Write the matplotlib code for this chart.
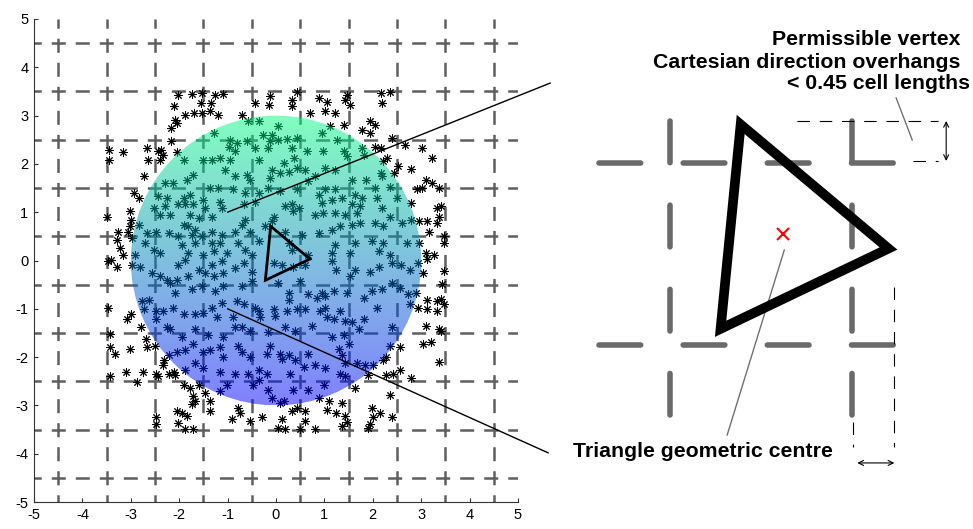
import matplotlib
matplotlib.use("Agg")
import matplotlib.pyplot as plt
import numpy as np
from matplotlib.patches import Circle, Polygon, ConnectionPatch

plt.rcParams["font.family"] = ["Liberation Sans", "DejaVu Sans"]
plt.rcParams["axes.unicode_minus"] = False
plt.rcParams["lines.scale_dashes"] = False

STARS = [
    (-2.02, 3.43), (-1.74, 3.45), (-1.53, 3.46), (-1.55, 3.27), (-2.10, 3.19), (-1.88, 3.02),
    (-1.69, 3.05), (-1.52, 3.05), (-2.09, 2.91), (-2.05, 2.84), (-2.16, 2.74), (-2.16, 2.47),
    (-3.45, 2.28), (-3.45, 2.09), (-3.16, 2.24), (-2.67, 2.33), (-2.43, 2.26), (-2.37, 2.28),
    (-2.33, 2.19), (-2.64, 2.09), (-2.40, 2.09), (-2.05, 2.24), (-1.91, 2.09), (-1.50, 2.09),
    (-2.72, 1.74), (-1.71, 1.78), (-1.84, 1.67), (-2.29, 1.60), (-2.12, 1.60), (-2.43, 1.33),
    (-2.93, 1.40), (-2.84, 1.29), (-2.26, 1.29), (-1.91, 1.29), (-1.78, 1.36), (-1.50, 1.26),
    (-2.02, 1.16), (-1.88, 1.16), (-1.71, 1.16), (-2.53, 1.09), (-2.29, 1.12), (-1.47, 1.09),
    (-2.40, 0.95), (-2.19, 0.95), (-1.78, 0.95), (-1.60, 0.88), (-3.50, 0.91), (-3.02, 1.02),
    (-3.00, 0.84), (-2.84, 0.74), (-3.02, 0.71), (-1.91, 0.74), (-1.81, 0.71), (-1.67, 0.64),
    (-3.26, 0.60), (-3.05, 0.60), (-2.67, 0.57), (-2.47, 0.60), (-2.22, 0.57), (-2.02, 0.50),
    (-1.74, 0.53), (-1.53, 0.50), (-3.29, 0.43), (-2.98, 0.47), (-2.71, 0.36), (-1.95, 0.33),
    (-1.67, 0.36), (-3.22, 0.26), (-2.91, 0.12), (-2.53, 0.22), (-2.40, 0.16), (-1.81, 0.16),
    (-1.50, 0.12), (-3.16, 0.12),
    (-1.26, 3.43), (-1.09, 3.45), (-1.34, 3.26), (-1.36, 3.09), (-1.19, 3.02), (-0.71, 3.02),
    (-0.43, 3.26), (-0.12, 3.40), (-0.14, 3.22), (0.33, 3.19), (0.33, 3.33), (0.43, 3.48),
    (0.71, 3.05), (0.88, 3.36), (-0.57, 2.88), (-0.36, 2.88), (0.05, 2.78), (-0.26, 2.60),
    (-0.09, 2.60), (-1.29, 2.64), (-0.95, 2.50), (-0.81, 2.43), (-0.60, 2.47), (-0.12, 2.47),
    (0.05, 2.50), (0.22, 2.51), (0.43, 2.53), (-0.98, 2.36), (-0.84, 2.26), (-0.43, 2.33),
    (-0.16, 2.33), (0.33, 2.33), (0.64, 2.26), (-1.33, 2.09), (-1.16, 2.12), (-0.95, 2.09),
    (-0.36, 2.09), (0.16, 2.02), (0.37, 2.12), (-1.05, 1.88), (-0.84, 1.74), (-0.60, 1.78),
    (-0.09, 1.88), (0.09, 1.81), (0.26, 1.84), (0.43, 1.91), (0.60, 1.88), (-0.12, 1.71),
    (-0.53, 1.67), (0.81, 1.74), (0.67, 1.64), (-1.36, 1.50), (-1.19, 1.50), (-0.88, 1.47),
    (-0.64, 1.40), (-0.36, 1.40), (-0.16, 1.50), (0.09, 1.43), (0.43, 1.47), (0.88, 1.36),
    (-1.16, 1.22), (-1.12, 1.09), (-0.67, 1.16), (-0.43, 1.22), (0.19, 1.12), (0.33, 1.16),
    (0.47, 1.09), (0.81, 0.95), (0.36, 1.02), (-1.33, 0.91), (-0.64, 0.84), (-0.71, 0.74),
    (-0.05, 0.91), (-0.09, 0.81), (-1.33, 0.60), (-1.12, 0.53), (-0.84, 0.60), (-0.53, 0.60),
    (-0.22, 0.71), (0.19, 0.60), (0.53, 0.53), (0.88, 0.57), (-1.33, 0.36), (-1.16, 0.36),
    (-0.78, 0.36), (-0.36, 0.40), (0.26, 0.36), (-1.29, 0.19), (-1.02, 0.16), (-0.64, 0.22),
    (-0.50, 0.12), (0.33, 0.22), (0.67, 0.12),
    (1.47, 3.43), (1.43, 3.33), (1.53, 3.22), (1.05, 3.29), (2.16, 3.47), (2.19, 3.26),
    (2.36, 3.48), (1.02, 3.09), (1.22, 3.05), (1.40, 2.81), (1.95, 2.88), (2.05, 2.81),
    (1.78, 2.71), (1.95, 2.64), (1.12, 2.78), (0.95, 2.64), (1.26, 2.50), (2.40, 2.53),
    (2.05, 2.36), (2.16, 2.33), (2.29, 2.12), (2.67, 2.40), (3.02, 2.33), (3.22, 2.12),
    (0.98, 2.26), (1.40, 2.26), (1.78, 2.33), (1.81, 2.19), (1.47, 2.16), (2.22, 2.05),
    (2.53, 1.95), (2.78, 1.89), (1.02, 1.91), (1.22, 1.88), (2.16, 1.81), (2.43, 1.81),
    (2.19, 1.74), (1.57, 1.67), (1.85, 1.67), (3.09, 1.67), (3.22, 1.60), (2.91, 1.47),
    (3.02, 1.50), (3.36, 1.50), (1.02, 1.47), (1.22, 1.47), (2.05, 1.50), (2.36, 1.53),
    (1.36, 1.29), (1.64, 1.36), (1.78, 1.29), (2.09, 1.29), (2.50, 1.29), (1.15, 1.26),
    (0.95, 1.19), (1.57, 1.16), (1.74, 1.12), (2.19, 1.09), (2.78, 1.19), (3.33, 1.09),
    (0.98, 0.98), (1.22, 0.98), (1.43, 0.95), (1.67, 0.98), (2.36, 0.91), (3.36, 0.91),
    (1.33, 0.71), (1.57, 0.74), (1.74, 0.78), (2.05, 0.78), (2.22, 0.71), (2.60, 0.78),
    (2.78, 0.84), (2.95, 0.81), (3.12, 0.81), (3.33, 0.78), (1.15, 0.64), (3.16, 0.60),
    (1.22, 0.33), (1.64, 0.36), (1.98, 0.40), (2.22, 0.36), (2.71, 0.36), (2.95, 0.36),
    (1.15, 0.16), (1.53, 0.16), (2.12, 0.19), (2.36, 0.12), (3.09, 0.16), (3.26, 0.12),
    (-3.47, -0.02), (-3.29, -0.13), (-3.40, 0.01), (-2.98, -0.09), (-2.81, -0.13), (-2.57, -0.26),
    (-2.40, -0.33), (-2.26, -0.40), (-2.05, -0.40), (-2.19, -0.47), (-1.81, -0.33), (-1.60, -0.19),
    (-1.47, -0.26), (-2.02, -0.09), (-1.88, 0.01), (-1.74, -0.60), (-1.53, -0.53), (-2.09, -0.67),
    (-2.76, -0.84), (-2.62, -0.81), (-2.72, -1.01), (-3.47, -0.98), (-3.00, -1.11), (-3.07, -1.21),
    (-2.47, -1.04), (-2.33, -1.04), (-2.47, -1.21), (-2.12, -0.98), (-1.91, -1.11), (-1.67, -1.11),
    (-1.50, -1.08), (-2.78, -1.38), (-2.26, -1.38), (-2.19, -1.42), (-1.95, -1.59), (-1.67, -1.42),
    (-3.43, -1.52), (-2.69, -1.62), (-3.43, -1.79), (-3.33, -1.93), (-3.02, -1.83), (-2.67, -1.79),
    (-2.50, -1.76), (-2.22, -1.96), (-2.05, -1.89), (-1.88, -1.86), (-1.71, -1.72), (-1.50, -1.89),
    (-2.31, -2.06), (-2.34, -2.17), (-2.11, -2.30), (-1.88, -2.27), (-1.67, -2.13), (-1.50, -2.23),
    (-3.43, -2.40), (-3.09, -2.30), (-2.88, -2.51), (-2.74, -2.30), (-2.47, -2.34), (-2.43, -2.40),
    (-2.22, -2.34), (-2.09, -2.37), (-1.91, -2.57), (-1.78, -2.64), (-1.60, -2.57), (-1.71, -2.81),
    (-1.67, -2.91), (-1.74, -2.98), (-1.47, -2.74), (-2.05, -3.12), (-1.95, -3.15), (-1.84, -3.22),
    (-2.02, -3.36), (-2.47, -3.25), (-2.47, -3.39), (-1.88, -3.49), (-1.71, -3.49),
    (-1.33, -0.09), (-1.12, -0.02), (-1.09, -0.26), (-1.29, -0.33), (-0.84, -0.16), (-0.67, -0.06),
    (-0.50, -0.23), (-0.50, -0.43), (-0.71, -0.53), (-1.09, -0.53), (-1.26, -0.64), (-0.05, -0.06),
    (0.12, -0.09), (0.36, -0.13), (0.60, -0.09), (0.50, -0.43), (0.05, -0.47), (0.26, -0.67),
    (0.26, -0.81), (0.67, -0.70), (0.84, -0.77), (0.95, -0.67), (-1.12, -0.87), (-0.81, -0.84),
    (-0.67, -0.91), (-0.43, -0.98), (-0.36, -1.04), (-0.05, -1.01), (0.22, -1.04), (0.43, -1.01),
    (0.60, -1.01), (0.91, -1.04), (-1.33, -0.98), (-1.22, -1.18), (-0.88, -1.18), (-0.33, -1.18),
    (-0.02, -1.15), (-0.84, -1.38), (-0.71, -1.38), (0.19, -1.38), (0.40, -1.45), (0.74, -1.35),
    (-1.40, -1.55), (-1.09, -1.59), (-0.53, -1.45), (-0.16, -1.49), (-1.36, -1.86), (-1.16, -1.79),
    (-1.09, -1.99), (-0.78, -1.76), (-0.71, -1.89), (-0.53, -1.99), (-0.12, -1.76), (-0.19, -1.93),
    (0.09, -1.93), (0.12, -2.03), (0.26, -1.96), (0.40, -2.06), (0.67, -1.93), (0.81, -2.17),
    (-1.16, -2.30), (-0.84, -2.34), (-0.57, -2.34), (-0.36, -2.27), (-0.19, -2.34), (0.29, -2.34),
    (0.57, -2.20), (-1.02, -2.57), (-1.16, -2.71), (-0.47, -2.57), (-0.36, -2.47), (-0.16, -2.68),
    (-0.09, -2.85), (0.09, -2.95), (0.16, -2.91), (0.36, -2.68), (0.67, -2.68), (0.88, -2.85),
    (-1.36, -2.91), (-1.36, -3.12), (-0.78, -3.05), (-0.74, -3.15), (-0.91, -3.29), (-0.53, -3.32),
    (-0.29, -3.25), (0.12, -3.29), (0.05, -3.46), (0.19, -3.49), (0.43, -3.05), (0.33, -3.12),
    (0.60, -3.12), (0.50, -3.49), (0.60, -3.32), (0.81, -3.49),
    (1.16, -0.02), (1.23, -0.19), (1.64, -0.19), (1.53, -0.33), (1.94, -0.23), (2.12, -0.13),
    (2.39, -0.06), (2.59, -0.09), (2.76, -0.19), (2.93, -0.06), (3.03, -0.26), (3.13, 0.04),
    (1.02, -0.74), (1.19, -0.64), (1.47, -0.67), (1.81, -0.77), (1.98, -0.64), (2.08, -0.98),
    (2.18, -0.60), (2.39, -0.47), (2.56, -0.57), (2.73, -0.70), (2.76, -0.91), (2.90, -0.67),
    (3.13, -0.81), (3.33, -0.84), (2.93, -0.98), (3.13, -1.01), (3.33, -1.04), (1.02, -0.98),
    (1.33, -1.04), (1.05, -1.18), (1.19, -1.21), (1.43, -1.25), (1.57, -1.28), (1.81, -1.21),
    (1.71, -1.41), (2.39, -1.38), (3.10, -1.35), (3.37, -1.42), (1.16, -1.58), (1.40, -1.55),
    (1.50, -1.72), (2.35, -1.76), (2.56, -1.79), (3.03, -1.72), (3.20, -1.69), (1.30, -1.83),
    (1.36, -1.96), (2.28, -2.00), (2.22, -2.06), (1.67, -2.13), (1.84, -2.17), (2.01, -2.17),
    (1.43, -2.13), (1.33, -2.34), (1.43, -2.40), (1.02, -2.23), (1.91, -2.37), (2.28, -2.37),
    (2.42, -2.34), (2.56, -2.27), (2.79, -2.44), (0.99, -2.57), (1.64, -2.64), (2.35, -2.78),
    (1.09, -2.91), (1.36, -2.95), (1.05, -3.09), (1.23, -3.15), (1.43, -3.22), (1.98, -3.05),
    (2.15, -3.15), (2.01, -3.25), (1.94, -3.39), (2.39, -3.25), (1.36, -3.42), (1.47, -3.35),
    (1.91, -3.46),
    (3.47, 0.51), (3.47, 0.37), (3.47, -0.21), (3.43, -0.49), (3.47, -0.91), (3.40, -1.46),
    (3.36, -2.11), (3.40, -0.80), (3.40, 1.12),
]
star_x, star_y = np.array(STARS).T

# example triangle and its zoomed copy
TRI_X = [-0.11, 0.70, -0.22]
TRI_Y = [0.71, 0.03, -0.41]
DISC_R = 3.0
GRID_POS = [-4.5, -3.5, -2.5, -1.5, -0.5, 0.5, 1.5, 2.5, 3.5, 4.5]
ZOOM_GRID = [-0.5, 0.5]

GREY = "#5f5f5f"

fig = plt.figure(figsize=(9.73, 5.29), dpi=100)

# ---------------- left: whole domain ----------------
ax = fig.add_axes([34 / 973, 27 / 529, 484 / 973, 483 / 529])
for g in GRID_POS:
    ax.plot([-5, 5], [g, g], color=GREY, lw=1.8, ls=(4.9, (10.1, 7.2)),
            dash_capstyle="butt", zorder=1)
    ax.plot([g, g], [-5, 5], color=GREY, lw=1.8, ls=(4.9, (10.1, 7.2)),
            dash_capstyle="butt", zorder=1)

ax.plot(star_x, star_y, ls="none", marker=(8, 2, 0), ms=6, mew=0.7,
        color="black", zorder=2)

grad = np.linspace(1, 0, 256)[:, None] * np.ones((1, 2))
img = ax.imshow(grad, cmap="winter", extent=(-DISC_R, DISC_R, -DISC_R, DISC_R),
                origin="upper", alpha=0.5, aspect="auto", zorder=3)
img.set_clip_path(Circle((0, 0), DISC_R, transform=ax.transData))

ax.add_patch(Polygon(np.c_[TRI_X, TRI_Y], closed=True, fill=False,
                     ec="black", lw=2, zorder=4))

ax.set_xlim(-5, 5)
ax.set_ylim(-5, 5)
ax.set_xticks(range(-5, 6))
ax.set_yticks(range(-5, 6))
for s in ("top", "right"):
    ax.spines[s].set_visible(False)
for s in ("left", "bottom"):
    ax.spines[s].set_color("#333333")
    ax.spines[s].set_linewidth(0.8)
ax.tick_params(direction="in", length=3, width=0.8, labelsize=10.5, pad=4,
               colors="#333333", labelcolor="black")

# ---------------- right: zoomed cell ----------------
ax2 = fig.add_axes([560 / 973, 0, 413 / 973, 1])
ax2.set_xlim(-1.10, 1.163)
ax2.set_ylim(-1.507, 1.392)
ax2.axis("off")

for g in ZOOM_GRID:
    ax2.plot([-0.885, 0.745], [g, g], color="#6a6a6a", lw=4,
             ls=(0, (30, 30.6)), dash_capstyle="round")
    ax2.plot([g, g], [0.73, -0.885], color="#6a6a6a", lw=4,
             ls=(0, (30, 30.6)), dash_capstyle="round")

ax2.add_patch(Polygon(np.c_[TRI_X, TRI_Y], closed=True, fill=False,
                      ec="black", lw=7, joinstyle="miter", zorder=4))
ax2.plot(np.mean(TRI_X), np.mean(TRI_Y), marker="x", color="red", ms=9, mew=1.5,
         zorder=5)

# overhang markers
thin = dict(color="black", lw=0.8, ls=(0, (9, 7)))
ax2.plot([0.20, 0.973], [0.729, 0.729], **thin)
ax2.plot([0.836, 0.973], [0.51, 0.51], **thin)
ax2.plot([0.732, 0.732], [-0.18, -1.06], **thin)
ax2.plot([0.507, 0.507], [-0.92, -1.06], **thin)
arr = dict(arrowstyle="<->", lw=0.8, color="black", mutation_scale=9,
           shrinkA=0, shrinkB=0)
ax2.annotate("", xy=(1.016, 0.729), xytext=(1.016, 0.51), arrowprops=arr)
ax2.annotate("", xy=(0.529, -1.145), xytext=(0.732, -1.145), arrowprops=arr)

# labels and leaders
tk = dict(fontsize=15.3, fontweight="bold", va="center")
ax2.text(1.093, 1.178, "Permissible vertex", ha="right", **tk)
ax2.text(1.093, 1.052, "Cartesian direction overhangs", ha="right", **tk)
ax2.text(1.148, 0.932, "< 0.45 cell lengths", ha="right", **tk)
ax2.text(-1.027, -1.085, "Triangle geometric centre", ha="left", **tk)
ax2.plot([0.742, 0.830], [0.855, 0.625], color="#707070", lw=1)
ax2.plot([0.129, -0.184], [0.022, -0.992], color="#707070", lw=1)

# connectors from the small triangle to the zoom
for a, b in (((-1, 1), (-1.153, 0.937)), ((-1, -1), (-1.164, -1.09))):
    fig.add_artist(ConnectionPatch(xyA=a, coordsA=ax.transData, xyB=b,
                                   coordsB=ax2.transData, color="black", lw=1,
                                   zorder=6))

fig.savefig("out.png", dpi=100)
